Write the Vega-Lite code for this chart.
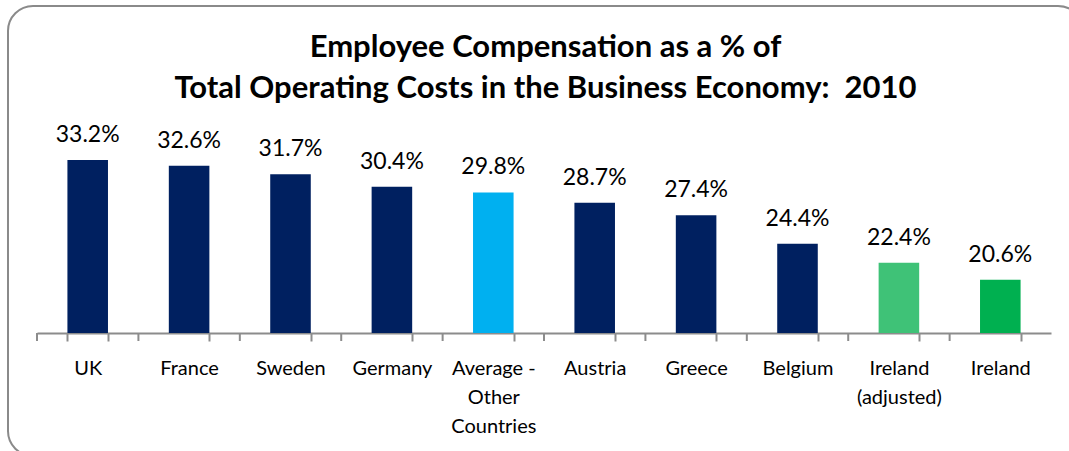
{
  "$schema": "https://vega.github.io/schema/vega-lite/v6.json",
  "width": 1075,
  "height": 450,
  "autosize": {"type": "none"},
  "padding": {"left": 8, "top": 6, "right": 0, "bottom": 0},
  "background": "white",
  "config": {"view": {"stroke": "#8a8a8a", "strokeWidth": 2, "cornerRadius": 25}},
  "title": {
    "text": ["Employee Compensation as a % of", "Total Operating Costs in the Business Economy:\u00a0 2010"],
    "anchor": "middle",
    "frame": "group",
    "offset": -99,
    "font": "Lato",
    "fontSize": 31,
    "fontWeight": "bold",
    "color": "black",
    "lineHeight": 41
  },
  "data": {
    "values": [
      {"country": "UK", "value": 33.2, "group": "country"},
      {"country": "France", "value": 32.6, "group": "country"},
      {"country": "Sweden", "value": 31.7, "group": "country"},
      {"country": "Germany", "value": 30.4, "group": "country"},
      {"country": "Average -|Other|Countries", "value": 29.8, "group": "average"},
      {"country": "Austria", "value": 28.7, "group": "country"},
      {"country": "Greece", "value": 27.4, "group": "country"},
      {"country": "Belgium", "value": 24.4, "group": "country"},
      {"country": "Ireland|(adjusted)", "value": 22.4, "group": "ireland adjusted"},
      {"country": "Ireland", "value": 20.6, "group": "ireland"}
    ]
  },
  "encoding": {
    "x": {
      "field": "country",
      "type": "nominal",
      "sort": null,
      "scale": {"range": [29, 1043], "paddingInner": 0.6, "paddingOuter": 0.3},
      "axis": {
        "title": null,
        "labelAngle": 0,
        "labelFont": "Lato",
        "labelFontSize": 20,
        "labelColor": "black",
        "labelPadding": 17,
        "labelLineHeight": 29,
        "labelExpr": "split(datum.label, '|')",
        "domainColor": "#8c8c8c",
        "domainWidth": 2,
        "tickColor": "#8c8c8c",
        "tickWidth": 2,
        "tickSize": 8,
        "tickBand": "extent",
        "offset": -123
      }
    },
    "y": {
      "field": "value",
      "type": "quantitative",
      "scale": {"domain": [15, 35], "range": [327, 137], "zero": false, "nice": false},
      "axis": null
    }
  },
  "layer": [
    {
      "mark": {"type": "bar", "clip": false},
      "encoding": {
        "y2": {"datum": 15},
        "color": {
          "field": "group",
          "type": "nominal",
          "scale": {
            "domain": ["country", "average", "ireland adjusted", "ireland"],
            "range": ["#002060", "#00b0f0", "#3fc277", "#00b050"]
          },
          "legend": null
        }
      }
    },
    {
      "mark": {"type": "rule", "color": "#8c8c8c", "strokeWidth": 2, "xOffset": -30.4, "y2Offset": 8},
      "encoding": {
        "x": {"field": "country", "type": "nominal", "sort": null, "bandPosition": 0},
        "y": {"datum": 15},
        "y2": {"datum": 15}
      }
    },
    {
      "mark": {
        "type": "text",
        "baseline": "bottom",
        "dy": -13,
        "font": "Lato",
        "fontSize": 23,
        "color": "black",
        "text": {"expr": "format(datum.value, '.1f') + '%'"}
      }
    }
  ]
}
